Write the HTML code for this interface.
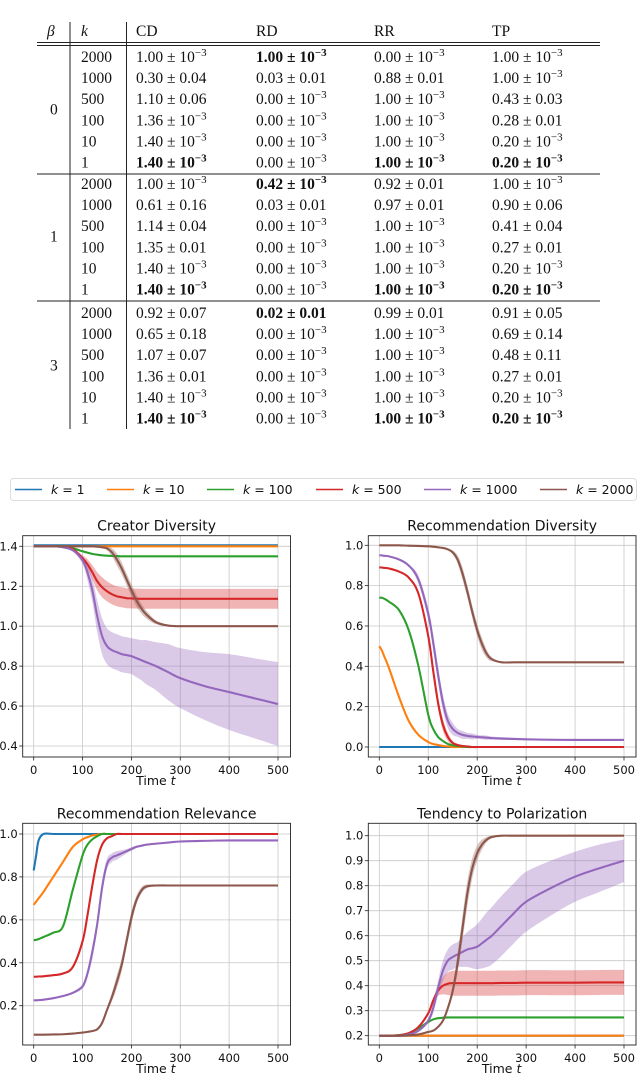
<!DOCTYPE html>
<html><head><meta charset="utf-8"><style>
html,body{margin:0;padding:0;background:#fff;}
svg{display:block;}
.tb{font-family:"Liberation Serif",serif;font-size:15.5px;fill:#111;}
.ax{font-family:"DejaVu Sans","Liberation Sans",sans-serif;fill:#111;}
</style></head><body>
<svg id="root" width="640" height="1075" viewBox="0 0 640 1075" xmlns="http://www.w3.org/2000/svg">
<g id="table">
<line x1="37" y1="42.5" x2="600" y2="42.5" stroke="#222" stroke-width="1"/>
<line x1="37" y1="45.5" x2="600" y2="45.5" stroke="#222" stroke-width="1"/>
<line x1="37" y1="174" x2="600" y2="174" stroke="#222" stroke-width="1"/>
<line x1="37" y1="301" x2="600" y2="301" stroke="#222" stroke-width="1"/>
<line x1="70" y1="22" x2="70" y2="429" stroke="#222" stroke-width="1"/>
<line x1="126.5" y1="22" x2="126.5" y2="429" stroke="#222" stroke-width="1"/>
<text class="tb" x="47" y="36" font-style="italic">β</text>
<text class="tb" x="81" y="36" font-style="italic">k</text>
<text class="tb" x="136" y="36">CD</text>
<text class="tb" x="256" y="36">RD</text>
<text class="tb" x="374" y="36">RR</text>
<text class="tb" x="492" y="36">TP</text>
</g>
<g id="legend">
<rect x="10.5" y="478.5" width="626" height="22" rx="3" fill="#fff" stroke="#ddd"/>
</g>
<g id="charts"></g>
</svg>
<script>
// ---------- table data ----------
const betas = ["0","1","3"];
const ks = ["2000","1000","500","100","10","1"];
const tableRows = [
 ["1.00|e","*1.00|e","0.00|e","1.00|e"],
 ["0.30|0.04","0.03|0.01","0.88|0.01","1.00|e"],
 ["1.10|0.06","0.00|e","1.00|e","0.43|0.03"],
 ["1.36|e","0.00|e","1.00|e","0.28|0.01"],
 ["1.40|e","0.00|e","1.00|e","0.20|e"],
 ["*1.40|e","0.00|e","*1.00|e","*0.20|e"],
 ["1.00|e","*0.42|e","0.92|0.01","1.00|e"],
 ["0.61|0.16","0.03|0.01","0.97|0.01","0.90|0.06"],
 ["1.14|0.04","0.00|e","1.00|e","0.41|0.04"],
 ["1.35|0.01","0.00|e","1.00|e","0.27|0.01"],
 ["1.40|e","0.00|e","1.00|e","0.20|e"],
 ["*1.40|e","0.00|e","*1.00|e","*0.20|e"],
 ["0.92|0.07","*0.02|0.01","0.99|0.01","0.91|0.05"],
 ["0.65|0.18","0.00|e","1.00|e","0.69|0.14"],
 ["1.07|0.07","0.00|e","1.00|e","0.48|0.11"],
 ["1.36|0.01","0.00|e","1.00|e","0.27|0.01"],
 ["1.40|e","0.00|e","1.00|e","0.20|e"],
 ["*1.40|e","0.00|e","*1.00|e","*0.20|e"]
];
const NS="http://www.w3.org/2000/svg";
function mk(tag,attrs,parent){const e=document.createElementNS(NS,tag);for(const k in attrs)e.setAttribute(k,attrs[k]);parent.appendChild(e);return e;}
const tbl=document.getElementById('table');
const colX=[136,256,374,492];
const groupStart=[57,184,313];
for(let g=0;g<3;g++){
  const bt=mk('text',{class:'tb',x:50,y:groupStart[g]+52.5+5},tbl);
  bt.textContent=betas[g];
  
  
  for(let r=0;r<6;r++){
    const yc=groupStart[g]+r*21.1+5;
    const kt=mk('text',{class:'tb',x:81,y:yc},tbl);
    kt.textContent=ks[r];
    
    
    const row=tableRows[g*6+r];
    for(let c=0;c<4;c++){
      let s=row[c];let bold=false;
      if(s[0]==='*'){bold=true;s=s.slice(1);}
      const [v,e]=s.split('|');
      const t=mk('text',{class:'tb',x:colX[c],y:yc},tbl);
      if(bold)t.setAttribute('font-weight','bold');
      
      
      if(e==='e'){
        const a=mk('tspan',{},t);a.textContent=v+' ± 10';
        const b=mk('tspan',{dy:-6,'font-size':'11'},t);b.textContent='−3';
      } else {t.textContent=v+' ± '+e;}
    }
  }
}
// ---------- legend ----------
const colors=["#1f77b4","#ff7f0e","#2ca02c","#d62728","#9467bd","#8c564b"];
const legendLabels=["1","10","100","500","1000","2000"];
const legX=[15,107,207,316,424,540];
const lg=document.getElementById('legend');
for(let i=0;i<6;i++){
  const l=mk('line',{x1:legX[i],y1:489.5,x2:legX[i]+27,y2:489.5,stroke:colors[i],'stroke-width':1.6},lg);
  
  
  const t=mk('text',{class:'ax',x:legX[i]+36,y:494,'font-size':'12.5'},lg);
  
  
  const a=mk('tspan',{'font-style':'italic'},t);a.textContent='k';
  const b=mk('tspan',{},t);b.textContent=' = '+legendLabels[i];
}
// ---------- chart data ----------
const times=[0,5,10,20,40,60,80,100,110,120,130,140,150,160,170,180,190,200,210,220,230,250,275,300,350,400,450,500];
const xTicks=[0,100,200,300,400,500];
const cdK1=Array(28).fill(1.405);
const cdK10=Array(28).fill(1.40);
const cdK100=[1.40,1.40,1.40,1.40,1.40,1.40,1.39,1.375,1.368,1.362,1.358,1.355,1.353,1.352,1.351,1.35,1.35,1.35,1.35,1.35,1.35,1.35,1.35,1.35,1.35,1.35,1.35,1.35];
const cdK500=[1.40,1.40,1.40,1.40,1.40,1.398,1.385,1.34,1.31,1.27,1.225,1.195,1.175,1.16,1.15,1.145,1.14,1.139,1.138,1.137,1.137,1.137,1.137,1.137,1.137,1.137,1.137,1.137];
const cdS500=[0,0,0,0,0,0,0.005,0.015,0.025,0.035,0.045,0.05,0.05,0.05,0.05,0.05,0.05,0.05,0.05,0.05,0.05,0.05,0.05,0.05,0.05,0.05,0.05,0.05];
const cdK1000=[1.40,1.40,1.40,1.40,1.40,1.395,1.38,1.33,1.27,1.18,1.05,0.95,0.90,0.88,0.87,0.86,0.855,0.85,0.84,0.83,0.82,0.80,0.77,0.74,0.70,0.67,0.64,0.61];
const cdS1000=[0,0,0,0,0,0,0.005,0.02,0.04,0.06,0.08,0.09,0.09,0.09,0.09,0.09,0.09,0.09,0.095,0.10,0.11,0.12,0.14,0.15,0.17,0.19,0.20,0.21];
const cdK2000=[1.40,1.40,1.40,1.40,1.40,1.40,1.40,1.40,1.40,1.40,1.398,1.395,1.39,1.37,1.335,1.29,1.235,1.18,1.13,1.09,1.06,1.02,1.003,1.0,1.0,1.0,1.0,1.0];
const cdS2000=[0,0,0,0,0,0,0,0,0,0,0,0.005,0.01,0.02,0.03,0.03,0.03,0.03,0.03,0.025,0.02,0.01,0.005,0,0,0,0,0];
const cdYTicks=[0.4,0.6,0.8,1.0,1.2,1.4];

const rdK1=Array(28).fill(0);
const rdK10=[0.50,0.48,0.45,0.39,0.25,0.13,0.06,0.025,0.015,0.01,0.005,0.003,0,0,0,0,0,0,0,0,0,0,0,0,0,0,0,0];
const rdK100=[0.74,0.74,0.735,0.72,0.68,0.58,0.40,0.16,0.09,0.05,0.03,0.015,0.008,0.005,0.003,0,0,0,0,0,0,0,0,0,0,0,0,0];
const rdK500=[0.89,0.89,0.888,0.885,0.87,0.84,0.76,0.55,0.38,0.22,0.11,0.05,0.02,0.01,0.005,0.003,0,0,0,0,0,0,0,0,0,0,0,0];
const rdS500=[0,0,0,0,0,0,0.01,0.02,0.03,0.03,0.03,0.02,0.01,0.005,0,0,0,0,0,0,0,0,0,0,0,0,0,0];
const rdK1000=[0.95,0.95,0.948,0.945,0.93,0.90,0.83,0.66,0.52,0.36,0.22,0.13,0.09,0.07,0.06,0.055,0.052,0.05,0.048,0.046,0.044,0.042,0.04,0.038,0.036,0.035,0.035,0.035];
const rdS1000=[0,0,0,0,0,0.005,0.02,0.03,0.04,0.04,0.04,0.035,0.03,0.02,0.02,0.015,0.015,0.01,0.01,0.01,0.008,0.007,0.006,0.005,0.005,0.005,0.005,0.005];
const rdK2000=[1.0,1.0,1.0,1.0,1.0,0.998,0.997,0.995,0.993,0.99,0.987,0.98,0.965,0.93,0.86,0.77,0.67,0.58,0.51,0.46,0.435,0.42,0.42,0.42,0.42,0.42,0.42,0.42];
const rdS2000=[0,0,0,0,0,0,0,0,0,0,0,0,0.01,0.02,0.03,0.03,0.03,0.03,0.03,0.02,0.01,0,0,0,0,0,0,0];
const rdYTicks=[0.0,0.2,0.4,0.6,0.8,1.0];

const rrK1=[0.83,0.90,0.97,1.0,1,1,1,1,1,1,1,1,1,1,1,1,1,1,1,1,1,1,1,1,1,1,1,1];
const rrK10=[0.67,0.685,0.70,0.73,0.80,0.87,0.94,0.975,0.985,0.993,0.997,1,1,1,1,1,1,1,1,1,1,1,1,1,1,1,1,1];
const rrK100=[0.505,0.507,0.51,0.52,0.54,0.57,0.74,0.90,0.95,0.975,0.99,1,1,1,1,1,1,1,1,1,1,1,1,1,1,1,1,1];
const rrK500=[0.335,0.335,0.336,0.337,0.342,0.35,0.38,0.50,0.62,0.76,0.88,0.95,0.98,0.99,1,1,1,1,1,1,1,1,1,1,1,1,1,1];
const rrS500=[0,0,0,0,0,0,0.005,0.015,0.02,0.02,0.015,0.01,0.005,0,0,0,0,0,0,0,0,0,0,0,0,0,0,0];
const rrK1000=[0.225,0.225,0.226,0.228,0.235,0.245,0.26,0.29,0.35,0.45,0.58,0.75,0.86,0.89,0.90,0.91,0.92,0.93,0.94,0.945,0.95,0.955,0.96,0.965,0.968,0.97,0.97,0.97];
const rrS1000=[0,0,0,0,0,0,0.005,0.01,0.02,0.03,0.03,0.03,0.025,0.02,0.02,0.015,0.01,0.008,0.006,0.005,0.005,0.004,0.004,0.003,0.003,0.003,0.003,0.003];
const rrK2000=[0.065,0.065,0.065,0.065,0.066,0.067,0.07,0.075,0.078,0.082,0.09,0.12,0.18,0.24,0.31,0.39,0.50,0.61,0.69,0.735,0.755,0.76,0.76,0.76,0.76,0.76,0.76,0.76];
const rrS2000=[0,0,0,0,0,0,0,0,0,0,0,0.005,0.01,0.02,0.03,0.03,0.03,0.03,0.02,0.015,0.01,0,0,0,0,0,0,0];
const rrYTicks=[0.2,0.4,0.6,0.8,1.0];

const tpK1=Array(28).fill(0.2);
const tpK10=Array(28).fill(0.2);
const tpK100=[0.2,0.2,0.2,0.2,0.202,0.21,0.23,0.255,0.265,0.27,0.272,0.273,0.273,0.273,0.273,0.273,0.273,0.273,0.273,0.273,0.273,0.273,0.273,0.273,0.273,0.273,0.273,0.273];
const tpK500=[0.2,0.2,0.2,0.2,0.202,0.21,0.235,0.29,0.34,0.38,0.40,0.408,0.41,0.41,0.41,0.41,0.41,0.41,0.41,0.41,0.41,0.411,0.411,0.412,0.412,0.412,0.413,0.413];
const tpS500=[0,0,0,0,0,0,0,0,0.01,0.02,0.035,0.045,0.05,0.05,0.05,0.05,0.05,0.05,0.05,0.05,0.05,0.05,0.05,0.05,0.05,0.05,0.05,0.05];
const tpK1000=[0.2,0.2,0.2,0.2,0.2,0.205,0.22,0.26,0.31,0.39,0.46,0.50,0.515,0.525,0.535,0.545,0.55,0.556,0.57,0.585,0.60,0.64,0.69,0.736,0.79,0.836,0.87,0.90];
const tpS1000=[0,0,0,0,0,0,0.005,0.01,0.02,0.03,0.04,0.045,0.05,0.05,0.06,0.07,0.08,0.09,0.10,0.11,0.115,0.12,0.12,0.12,0.11,0.10,0.095,0.085];
const tpK2000=[0.2,0.2,0.2,0.2,0.2,0.202,0.205,0.215,0.22,0.235,0.26,0.31,0.38,0.49,0.63,0.77,0.87,0.93,0.965,0.985,0.995,1,1,1,1,1,1,1];
const tpS2000=[0,0,0,0,0,0,0,0,0,0,0.005,0.01,0.02,0.04,0.05,0.05,0.04,0.03,0.02,0.01,0.005,0,0,0,0,0,0,0];
const tpYTicks=[0.2,0.3,0.4,0.5,0.6,0.7,0.8,0.9,1.0];

// ---------- chart drawing ----------
const charts=[
 {name:'creator-diversity',title:'Creator Diversity',box:[22.7,535.7,290.5,757],x0:33.7,x500:278,yA:[1.4,546.3],yB:[0.4,746],ticks:cdYTicks,fmt:1,
  series:[cdK1,cdK10,cdK100,cdK500,cdK1000,cdK2000],bands:[null,null,null,cdS500,cdS1000,cdS2000],tickY:770,labelY:786},
 {name:'recommendation-diversity',title:'Recommendation Diversity',box:[368.3,535.7,636,757],x0:379.3,x500:624,yA:[1.0,545.3],yB:[0.0,747],ticks:rdYTicks,fmt:1,
  series:[rdK1,rdK10,rdK100,rdK500,rdK1000,rdK2000],bands:[null,null,null,rdS500,rdS1000,rdS2000],tickY:770,labelY:786},
 {name:'recommendation-relevance',title:'Recommendation Relevance',box:[22.7,823.3,290.5,1045],x0:33.7,x500:278,yA:[1.0,834],yB:[0.2,1005.7],ticks:rrYTicks,fmt:1,
  series:[rrK1,rrK10,rrK100,rrK500,rrK1000,rrK2000],bands:[null,null,null,rrS500,rrS1000,rrS2000],tickY:1058,labelY:1074},
 {name:'tendency-to-polarization',title:'Tendency to Polarization',box:[368.3,823.3,636,1045],x0:379.3,x500:624,yA:[1.0,835.7],yB:[0.2,1035.7],ticks:tpYTicks,fmt:1,
  series:[tpK1,tpK10,tpK100,tpK500,tpK1000,tpK2000],bands:[null,null,null,tpS500,tpS1000,tpS2000],tickY:1058,labelY:1074}
];
function smooth(pts){
  let d='M'+pts[0][0].toFixed(2)+','+pts[0][1].toFixed(2);
  for(let i=0;i<pts.length-1;i++){
    const p0=pts[i-1]||pts[i],p1=pts[i],p2=pts[i+1],p3=pts[i+2]||p2;
    const c1=[p1[0]+(p2[0]-p0[0])/6,p1[1]+(p2[1]-p0[1])/6];
    const c2=[p2[0]-(p3[0]-p1[0])/6,p2[1]-(p3[1]-p1[1])/6];
    d+='C'+c1[0].toFixed(2)+','+c1[1].toFixed(2)+' '+c2[0].toFixed(2)+','+c2[1].toFixed(2)+' '+p2[0].toFixed(2)+','+p2[1].toFixed(2);
  }
  return d;
}
const root=document.getElementById('charts');
charts.forEach((c,ci)=>{
  const g=mk('g',{},root);
  
  
  const xs=t=>c.x0+(c.x500-c.x0)*t/500;
  const ys=v=>c.yA[1]+(v-c.yA[0])*(c.yB[1]-c.yA[1])/(c.yB[0]-c.yA[0]);
  const [L,T,R,B]=c.box;
  const clipId='clip'+ci;
  const cp=mk('clipPath',{id:clipId},g);mk('rect',{x:L,y:T,width:R-L,height:B-T},cp);
  xTicks.forEach(t=>{
    const l=mk('line',{x1:xs(t),y1:T,x2:xs(t),y2:B,stroke:'#c8c8c8','stroke-width':0.8},g);
    
    
    const tk=mk('line',{x1:xs(t),y1:B,x2:xs(t),y2:B+3.5,stroke:'#222','stroke-width':0.8},g);
    
    
    const tl=mk('text',{class:'ax',x:xs(t),y:c.tickY+4,'font-size':'11.5','text-anchor':'middle'},g);
    tl.textContent=String(t);
    
    
  });
  c.ticks.forEach(v=>{
    const l=mk('line',{x1:L,y1:ys(v),x2:R,y2:ys(v),stroke:'#c8c8c8','stroke-width':0.8},g);
    
    
    const tk=mk('line',{x1:L-3.5,y1:ys(v),x2:L,y2:ys(v),stroke:'#222','stroke-width':0.8},g);
    
    
    const tl=mk('text',{class:'ax',x:L-5,y:ys(v)+4,'font-size':'11.5','text-anchor':'end'},g);
    tl.textContent=v.toFixed(c.fmt);
    
    
  });
  const pg=mk('g',{'clip-path':'url(#'+clipId+')'},g);
  c.series.forEach((s,si)=>{
    const band=c.bands[si];
    if(band){
      const up=times.map((t,i)=>[xs(t),ys(s[i]+band[i])]);
      const lo=times.map((t,i)=>[xs(t),ys(s[i]-band[i])]).reverse();
      const d=smooth(up)+smooth(lo).replace('M','L')+'Z';
      const p=mk('path',{d:d,fill:colors[si],'fill-opacity':0.35,stroke:'none'},pg);
      
      
    }
  });
  c.series.forEach((s,si)=>{
    const pts=times.map((t,i)=>[xs(t),ys(s[i])]);
    const p=mk('path',{d:smooth(pts),fill:'none',stroke:colors[si],'stroke-width':2.1,'stroke-linejoin':'round'},pg);
    
    
  });
  const bx=mk('rect',{x:L,y:T,width:R-L,height:B-T,fill:'none',stroke:'#222','stroke-width':0.9},g);
  
  
  const tt=mk('text',{class:'ax',x:(L+R)/2,y:T-5,'font-size':'14','text-anchor':'middle'},g);
  tt.textContent=c.title;
  
  
  const xl=mk('text',{class:'ax',x:(c.x0+c.x500)/2,y:c.labelY-1,'font-size':'12.5','text-anchor':'middle'},g);
  
  
  const a=mk('tspan',{},xl);a.textContent='Time ';
  const b=mk('tspan',{'font-style':'italic'},xl);b.textContent='t';
});
</script>
</body></html>
